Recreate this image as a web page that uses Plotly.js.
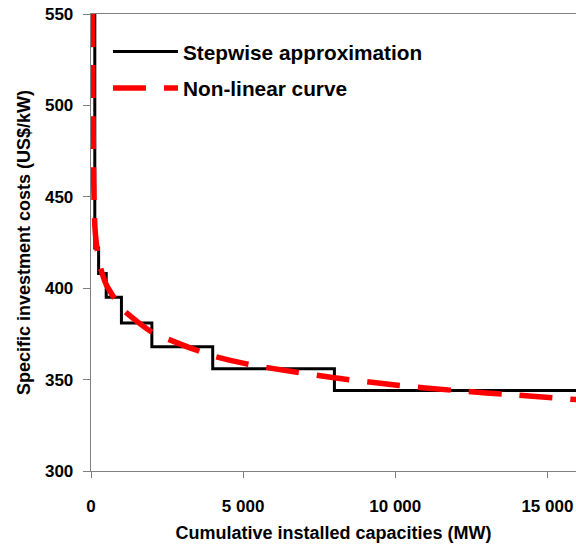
<!DOCTYPE html>
<html>
<head>
<meta charset="utf-8">
<script src="https://cdn.plot.ly/plotly-3.0.1.min.js"></script>
<style>html,body{margin:0;padding:0;background:#fff;}#chart{width:576px;height:546px;}</style>
</head>
<body>
<div id="chart"></div>
<script>
// Stepwise approximation (cumulative capacity breakpoints in MW, cost level in US$/kW)
var stepX = [125, 125, 250, 500, 1000, 2000, 4000, 8000, 16000];
var stepY = [560, 422, 408, 395, 381, 368, 356, 344, 344];

// Non-linear curve
var curveX = [40, 55, 70, 85, 100, 130, 180, 250, 350, 500, 750, 1000, 1500, 2000, 3000, 4000, 5000, 6000, 8000, 10000, 12000, 14000, 16000];
var curveY = [550, 520, 490, 465, 448, 433, 424, 416, 409, 402, 395, 389, 382, 376, 369, 363, 359, 356, 351, 347, 344, 341.5, 339];

var seriesNames = ["Stepwise approximation", "Non-linear curve"];
var xTicks = [0, 5000, 10000, 15000];
var yTicks = [300, 350, 400, 450, 500, 550];

var FONT = "Liberation Sans, Arial, sans-serif";

var traces = [
  {
    x: stepX, y: stepY, type: "scatter", mode: "lines",
    name: seriesNames[0], legendgroup: "a",
    line: {color: "#000000", width: 3, shape: "hv"}
  },
  {
    x: curveX, y: curveY, type: "scatter", mode: "lines",
    name: seriesNames[1], legendgroup: "b",
    line: {color: "#FF0000", width: 5.5, dash: "33px,18px", shape: "spline", smoothing: 0.6}
  }
];

var layout = {
  width: 576, height: 546,
  margin: {l: 91, r: 0, t: 14, b: 75, pad: 0},
  paper_bgcolor: "#ffffff", plot_bgcolor: "#ffffff",
  separators: ". ",
  showlegend: true,
  legend: {
    x: 0.035, y: 0.962, xref: "paper", yref: "paper", xanchor: "left", yanchor: "top",
    bgcolor: "rgba(0,0,0,0)", borderwidth: 0,
    font: {family: FONT, size: 20.8, color: "#000", weight: 700},
    itemwidth: 65, traceorder: "grouped", tracegroupgap: 6.5
  },
  xaxis: {
    range: [0, 15940], tickvals: xTicks, tickformat: ",d",
    showgrid: false, zeroline: false,
    showline: true, linecolor: "#808080", linewidth: 1.3, mirror: true,
    ticks: "outside", ticklen: 6, tickcolor: "#808080", tickwidth: 1,
    ticklabelstandoff: 13,
    tickfont: {family: FONT, size: 17, color: "#000", weight: 700},
    title: {text: "Cumulative installed capacities (MW)", standoff: 11,
            font: {family: FONT, size: 18, color: "#000", weight: 700}}
  },
  yaxis: {
    range: [300, 550], tickvals: yTicks,
    showgrid: false, zeroline: false,
    showline: true, linecolor: "#808080", linewidth: 1.3,
    ticks: "outside", ticklen: 7, tickcolor: "#808080", tickwidth: 1,
    ticklabelstandoff: 6,
    tickfont: {family: FONT, size: 17, color: "#000", weight: 700},
    title: {text: "Specific investment costs (US$/kW)", standoff: 9,
            font: {family: FONT, size: 18, color: "#000", weight: 700}}
  }
};

Plotly.newPlot("chart", traces, layout, {displayModeBar: false, staticPlot: true});
</script>
</body>
</html>
